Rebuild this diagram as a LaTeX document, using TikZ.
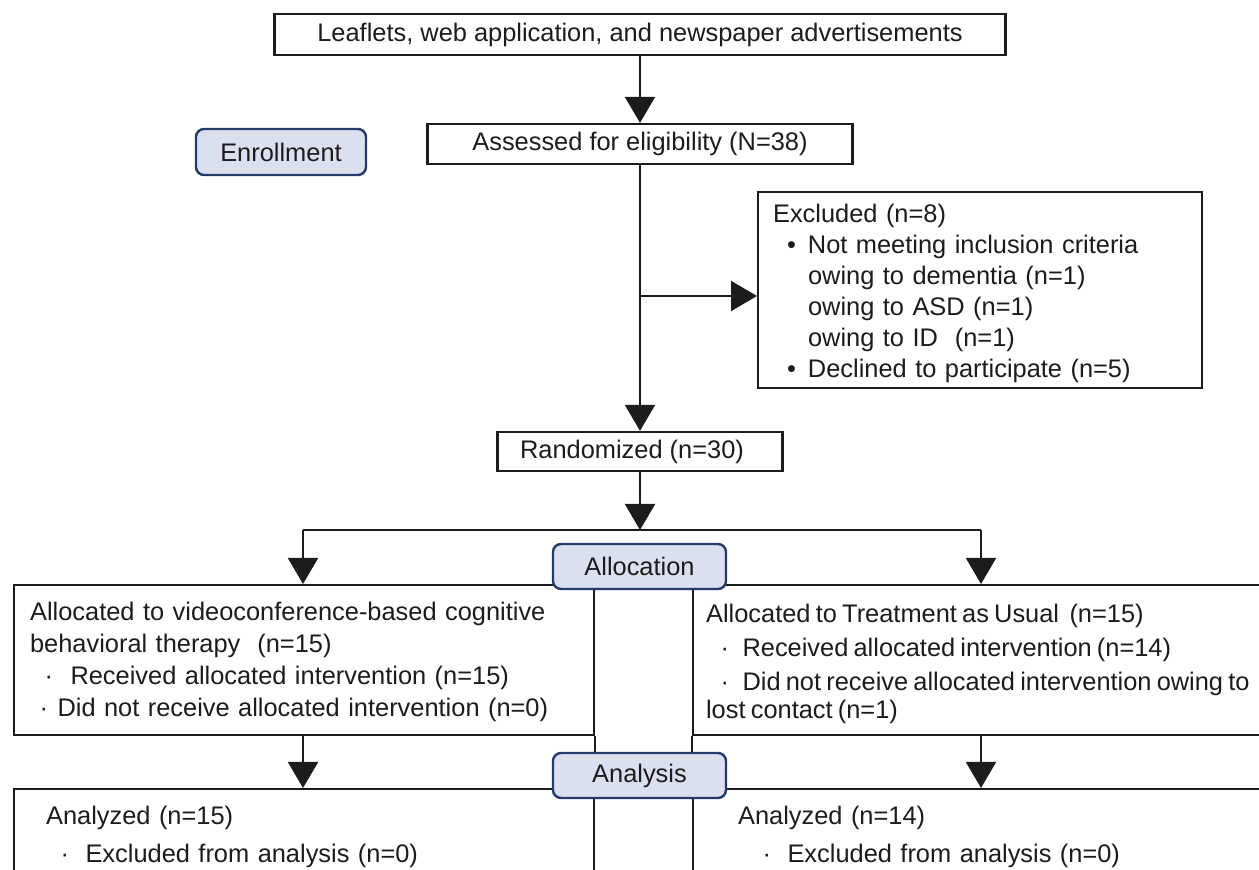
\documentclass[tikz,border=0pt]{standalone}
\usepackage{fontspec}
\setmainfont{Liberation Sans}
\usetikzlibrary{arrows.meta,positioning,calc}
\definecolor{ink}{RGB}{28,28,28}
\definecolor{phaseF}{RGB}{218,224,240}
\definecolor{phaseD}{RGB}{38,58,105}

\begin{document}
\begin{tikzpicture}[x=0.5pt, y=-0.5pt, font=\fontsize{12.7}{15.5}\selectfont,
  >={Triangle[length=13pt, width=15pt]},
  flow/.style={rectangle, draw=ink, line width=1.1pt, fill=white, text=ink,
               inner ysep=0pt},
  note/.style={flow, anchor=north west, align=left},
  phase/.style={rectangle, rounded corners=4pt, draw=phaseD, fill=phaseF,
                line width=1.2pt, text=ink, inner sep=0pt,
                minimum width=86.5pt, minimum height=22.5pt},
  link/.style={draw=ink, line width=1pt}]
  \useasboundingbox (0,0) rectangle (1259,870);
  \clip (0,0) rectangle (1259,870);
  % enrollment
  \node[flow, line width=1.4pt, minimum width=365.5pt, minimum height=20.5pt] (src) at (640,34.5)
    {Leaflets, web application, and newspaper advertisements};
  \node[flow, minimum width=212.5pt, minimum height=20pt] (elig) at (640,144)
    {Assessed for eligibility (N=38)};
  \node[phase, minimum width=85pt, minimum height=23pt] (enr) at (281,152) {Enrollment};
  \node[note, text width=207pt, inner xsep=7.5pt, minimum height=98pt] (excl) at (757,191)
    {\rule{0pt}{13pt}Excluded (n=8)\\
     \hspace*{7pt}•\hspace{6pt}Not meeting inclusion criteria\\
     \hspace*{17.5pt}owing to dementia (n=1)\\
     \hspace*{17.5pt}owing to ASD (n=1)\\
     \hspace*{17.5pt}owing to ID\ \ (n=1)\\
     \hspace*{7pt}•\hspace{6pt}Declined to participate (n=5)};
  \node[flow, minimum width=142.5pt, minimum height=19.5pt] (rnd) at (640,451.5)
    {Randomized (n=30)\hspace*{8pt}};
  % allocation
  \node[note, text width=274pt, inner xsep=8pt, minimum height=75pt] (vc) at (13,584)
    {\rule{0pt}{11.5pt}Allocated to videoconference-based cognitive\\[0.5pt]
     behavioral therapy\ \ (n=15)\\[0.5pt]
     \hspace*{7.25pt}·\hspace{8.75pt}Received allocated intervention (n=15)\\[0.5pt]
     \hspace*{4.75pt}·\hspace{4.75pt}Did not receive allocated intervention (n=0)};
  \node[note, text width=307pt, inner xsep=6.5pt, minimum height=75pt] (tau) at (692,584)
    {\spaceskip=2.6pt\rule{0pt}{12.7pt}Allocated to Treatment as Usual\ \ (n=15)\\[1.5pt]
     \hspace*{7.25pt}·\hspace{6.75pt}Received allocated intervention (n=14)\\[1.5pt]
     \hspace*{7.25pt}·\hspace{6.75pt}Did not receive allocated intervention owing to\\[-1.5pt]
     lost contact (n=1)};
  % analysis
  \node[note, text width=258pt, inner xsep=16pt, minimum height=48pt] (anv) at (13,788)
    {Analyzed (n=15)\\[3.5pt]
     \hspace*{7.25pt}·\hspace{8.25pt}Excluded from analysis (n=0)};
  \node[note, text width=275pt, inner xsep=22.5pt, minimum height=48pt] (ant) at (692,788)
    {Analyzed (n=14)\\[3.5pt]
     \hspace*{12.25pt}·\hspace{8.25pt}Excluded from analysis (n=0)};
  \coordinate (br)  at (640,296);
  \coordinate (sp)  at (640,530);
  \coordinate (spL) at (303,530);
  \coordinate (spR) at (981,530);
  \draw[link, ->] (src) -- (elig);
  \draw[link, ->] (elig) -- (rnd);
  \draw[link, ->] (br) -- (br -| excl.west);
  \draw[link, ->] (rnd) -- (sp);
  \draw[link] (spL) -- (spR);
  \draw[link, ->] (spL) -- (spL |- vc.north);
  \draw[link, ->] (spR) -- (spR |- tau.north);
  \draw[link, ->] (spL |- vc.south) -- (spL |- anv.north);
  \draw[link, ->] (spR |- tau.south) -- (spR |- ant.north);
  \draw[link] (vc.south east) -- (anv.north east);
  \draw[link] (tau.south west) -- (ant.north west);
  \node[phase] (alc) at (639.5,566.5) {Allocation};
  \node[phase] (ana) at (639.5,775.5) {Analysis};
\end{tikzpicture}
\end{document}
